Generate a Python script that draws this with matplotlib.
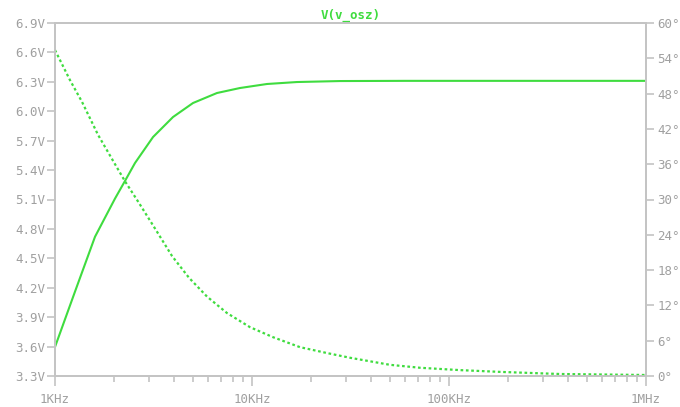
import matplotlib
matplotlib.use("Agg")
import matplotlib.pyplot as plt
from matplotlib.ticker import FixedLocator, LogLocator, NullFormatter

# magnitude (left axis, V)
mag_freq = [1000, 1263, 1596, 2017, 2266, 2547, 3145, 3972, 5018, 6640, 8690,
            11920, 16920, 27960, 60000, 150000, 400000, 1000000]
mag_volt = [3.596, 4.16, 4.72, 5.11, 5.289, 5.472, 5.737, 5.941, 6.084, 6.186,
            6.237, 6.278, 6.298, 6.308, 6.31, 6.31, 6.31, 6.31]

# phase (right axis, degrees)
ph_freq = [1000, 1191, 1371, 1653, 2017, 2266, 2670, 3256, 3926, 4788, 5910, 7467,
           9768, 12785, 17525, 24030, 31450, 50180, 71260, 113700, 181500, 366100,
           1000000]
ph_deg = [55.4, 50.3, 46.6, 41.0, 36.0, 33.1, 29.4, 24.8, 20.4, 16.7, 13.5, 10.7,
          8.3, 6.6, 4.9, 3.9, 3.1, 1.9, 1.4, 1.0, 0.7, 0.34, 0.17]

x_ticks = [1e3, 1e4, 1e5, 1e6]
x_labels = ["1KHz", "10KHz", "100KHz", "1MHz"]
v_ticks = [3.3 + 0.3 * i for i in range(13)]
v_labels = ["%.1fV" % v for v in v_ticks]
deg_ticks = list(range(0, 61, 6))
deg_labels = ["%d°" % d for d in deg_ticks]

GREEN = "#3fdc3f"
GRAY = "#a0a0a0"
SPINE = "#c4c4c4"
FONT = "DejaVu Sans Mono"

fig = plt.figure(figsize=(6.8, 4.07), dpi=100)
ax = fig.add_axes([55 / 680, 31 / 407, 591 / 680, 353 / 407])
ax2 = ax.twinx()

ax.plot(mag_freq, mag_volt, color=GREEN, lw=1.5)
ax2.plot(ph_freq, ph_deg, color=GREEN, lw=1.6, linestyle=(0, (1.2, 1.2)))

ax.set_xscale("log")
ax.set_xlim(1e3, 1e6)
ax.set_ylim(3.3, 6.9)
ax2.set_ylim(0, 60)

ax.xaxis.set_major_locator(FixedLocator(x_ticks))
ax.set_xticklabels(x_labels)
ax.xaxis.set_minor_locator(LogLocator(base=10, subs=range(2, 10)))
ax.xaxis.set_minor_formatter(NullFormatter())
ax.set_yticks(v_ticks)
ax.set_yticklabels(v_labels)
ax2.set_yticks(deg_ticks)
ax2.set_yticklabels(deg_labels)

for a in (ax, ax2):
    for s in a.spines.values():
        s.set_color(SPINE)
        s.set_linewidth(1.3)
    a.tick_params(which="both", colors=SPINE, labelcolor=GRAY, width=1.2)
    for lab in a.get_xticklabels() + a.get_yticklabels():
        lab.set_fontfamily(FONT)
        lab.set_fontsize(9)

ax.tick_params(axis="y", length=6, pad=1)
ax2.tick_params(axis="y", length=6, pad=2)
ax.tick_params(axis="x", which="major", length=7, pad=5)
ax.tick_params(axis="x", which="minor", length=4)

ax.set_title("V(v_osz)", color=GREEN, fontfamily=FONT, fontsize=9,
             fontweight="bold", pad=3)

fig.savefig("out.png", dpi=100, facecolor="white")
